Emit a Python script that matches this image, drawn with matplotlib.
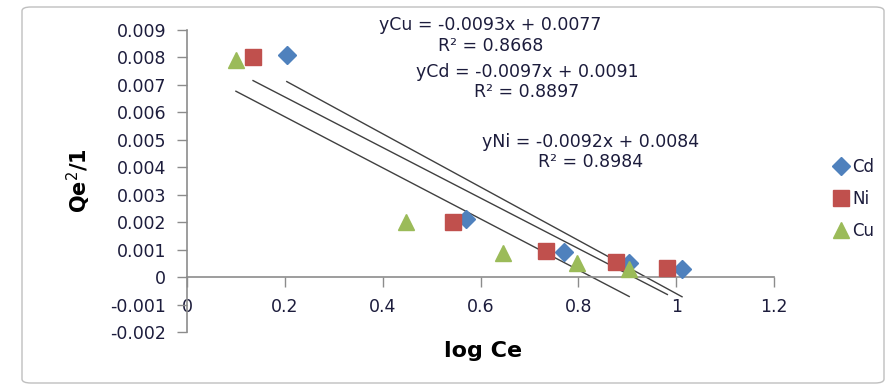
import numpy as np
import matplotlib.pyplot as plt
from matplotlib.patches import FancyBboxPatch

# data
cd_x = [0.204, 0.571, 0.771, 0.904, 1.012]
cd_y = [0.0081, 0.0021, 0.0009, 0.0005, 0.0003]
ni_x = [0.135, 0.543, 0.733, 0.878, 0.982]
ni_y = [0.0080, 0.0020, 0.00095, 0.00055, 0.00033]
cu_x = [0.100, 0.447, 0.645, 0.798, 0.904]
cu_y = [0.0079, 0.0020, 0.00088, 0.00051, 0.0003]

# trendline coefficients as printed on the chart
slopes = {'Cd': -0.0097, 'Ni': -0.0092, 'Cu': -0.0093}
intercepts = {'Cd': 0.0091, 'Ni': 0.0084, 'Cu': 0.0077}
r2 = {'Cd': 0.8897, 'Ni': 0.8984, 'Cu': 0.8668}

x_ticks = [0, 0.2, 0.4, 0.6, 0.8, 1, 1.2]
x_labels = ['0', '0.2', '0.4', '0.6', '0.8', '1', '1.2']
y_ticks = [-0.002, -0.001, 0, 0.001, 0.002, 0.003, 0.004, 0.005, 0.006, 0.007, 0.008, 0.009]
y_labels = ['-0.002', '-0.001', '0', '0.001', '0.002', '0.003', '0.004',
            '0.005', '0.006', '0.007', '0.008', '0.009']

plt.rcParams['font.family'] = ['DejaVu Sans']
txt_col = '#1c1c3c'
axis_col = '#8c8c8c'

fig = plt.figure(figsize=(8.95, 3.89), dpi=100)
fig.patch.set_facecolor('white')

# outer chart frame
frame = FancyBboxPatch((22 / 895, 6 / 389), 862 / 895, 376 / 389,
                       boxstyle='round,pad=0,rounding_size=0.01',
                       transform=fig.transFigure, fill=False,
                       edgecolor='#bfbfbf', linewidth=1.0)
fig.patches.append(frame)

ax = fig.add_axes([187 / 895, 57 / 389, 587 / 895, 302 / 389])

series = [
    ('Cd', cd_x, cd_y, 'D', '#4F81BD', 9),
    ('Ni', ni_x, ni_y, 's', '#C0504D', 11),
    ('Cu', cu_x, cu_y, '^', '#9BBB59', 12),
]

for name, xs, ys, mk, col, ms in series:
    ax.plot(xs, ys, linestyle='none', marker=mk, color=col, markersize=ms,
            label=name, zorder=3)
    xl = np.array([min(xs), max(xs)])
    ax.plot(xl, slopes[name] * xl + intercepts[name], color='#404040',
            linewidth=1.0, zorder=2)

ax.set_xlim(0, 1.2)
ax.set_ylim(-0.002, 0.009)
ax.set_xticks(x_ticks)
ax.set_xticklabels(x_labels)
ax.set_yticks(y_ticks)
ax.set_yticklabels(y_labels)

for s in ['top', 'right']:
    ax.spines[s].set_visible(False)
ax.spines['bottom'].set_position(('data', 0))
ax.spines['left'].set_color(axis_col)
ax.spines['bottom'].set_color(axis_col)
ax.spines['left'].set_linewidth(1.2)
ax.spines['bottom'].set_linewidth(1.2)
ax.tick_params(axis='both', colors=axis_col, labelcolor=txt_col,
               labelsize=12.5, length=7, width=1)
ax.tick_params(axis='y', pad=8)
ax.tick_params(axis='x', pad=8)

ax.set_xlabel('log Ce', fontsize=16, fontweight='bold', color='black')
ax.xaxis.set_label_coords(0.504, -0.03)
ax.set_ylabel('Qe$^2$/1', fontsize=15, fontweight='bold', color='black')
ax.yaxis.set_label_coords(-0.16, 0.5)

# trendline equations
def eq(name):
    return 'y%s = %.4fx + %.4f' % (name, slopes[name], intercepts[name])

fs = 12.5
ax.text(0.62, 0.0092, eq('Cu'), ha='center', va='center', fontsize=fs, color=txt_col)
ax.text(0.62, 0.0084, 'R² = %.4f' % r2['Cu'], ha='center', va='center', fontsize=fs, color=txt_col)
ax.text(0.695, 0.00748, eq('Cd'), ha='center', va='center', fontsize=fs, color=txt_col)
ax.text(0.695, 0.00675, 'R² = %.4f' % r2['Cd'], ha='center', va='center', fontsize=fs, color=txt_col)
ax.text(0.826, 0.00493, eq('Ni'), ha='center', va='center', fontsize=fs, color=txt_col)
ax.text(0.826, 0.0042, 'R² = %.4f' % r2['Ni'], ha='center', va='center', fontsize=fs, color=txt_col)

leg = ax.legend(loc='center left', bbox_to_anchor=(1.085, 0.44), frameon=False,
                fontsize=12, handletextpad=0.1, labelspacing=0.85,
                handlelength=1.2, borderaxespad=0)
for t in leg.get_texts():
    t.set_color(txt_col)

plt.savefig('out.png', dpi=100)
